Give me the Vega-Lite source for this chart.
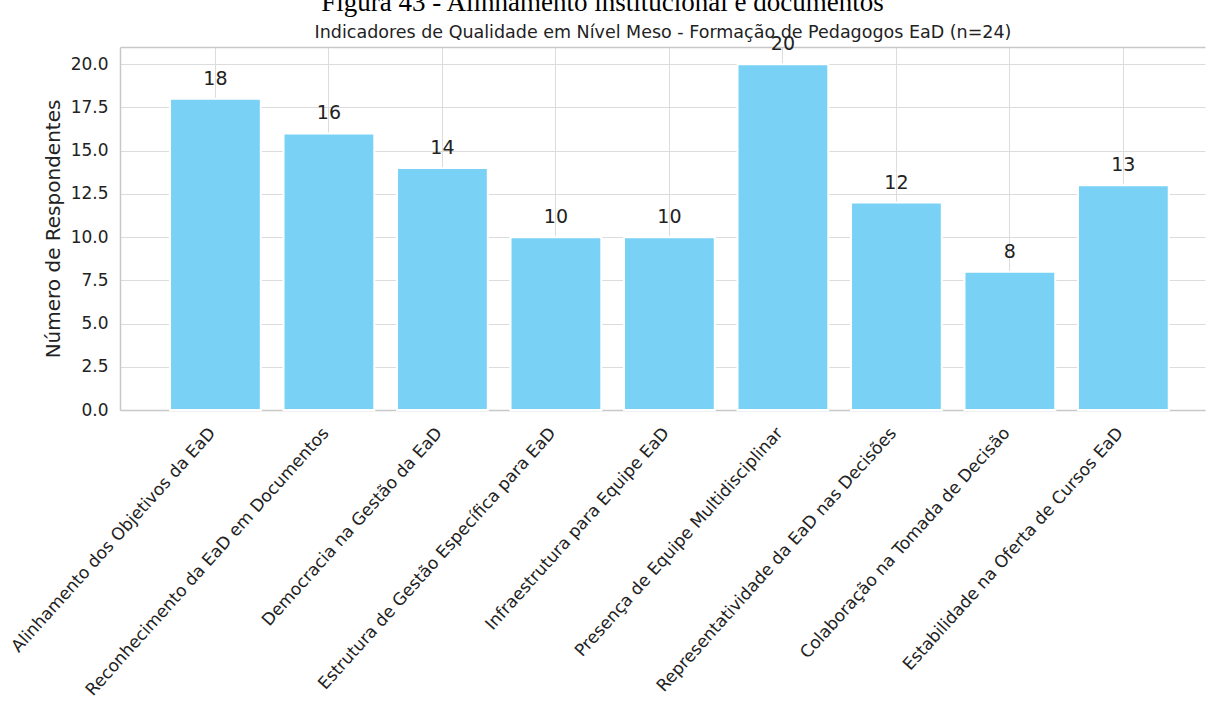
{
  "$schema": "https://vega.github.io/schema/vega-lite/v6.json",
  "autosize": {"type": "none"},
  "width": 1085,
  "height": 363,
  "padding": {"left": 120, "top": 47, "right": 2, "bottom": 307},
  "background": "white",
  "title": {
    "text": "Figura 43 - Alinhamento institucional e documentos",
    "font": "Liberation Serif",
    "fontSize": 27,
    "fontWeight": "normal",
    "color": "#000000",
    "anchor": "middle",
    "frame": "group",
    "dx": -60,
    "offset": 6
  },
  "data": {
    "values": [
      {"indicador": "Alinhamento dos Objetivos da EaD", "n": 18},
      {"indicador": "Reconhecimento da EaD em Documentos", "n": 16},
      {"indicador": "Democracia na Gestão da EaD", "n": 14},
      {"indicador": "Estrutura de Gestão Específica para EaD", "n": 10},
      {"indicador": "Infraestrutura para Equipe EaD", "n": 10},
      {"indicador": "Presença de Equipe Multidisciplinar", "n": 20},
      {"indicador": "Representatividade da EaD nas Decisões", "n": 12},
      {"indicador": "Colaboração na Tomada de Decisão", "n": 8},
      {"indicador": "Estabilidade na Oferta de Cursos EaD", "n": 13}
    ]
  },
  "encoding": {
    "x": {
      "field": "indicador",
      "type": "nominal",
      "sort": null,
      "scale": {"paddingInner": 0.2, "paddingOuter": 0.38, "align": 0.58}
    },
    "y": {
      "field": "n",
      "type": "quantitative",
      "scale": {"domain": [0, 21], "nice": false},
      "axis": {
        "title": "Número de Respondentes",
        "values": [0, 2.5, 5, 7.5, 10, 12.5, 15, 17.5, 20],
        "format": ".1f",
        "ticks": false,
        "labelPadding": 12,
        "labelFont": "DejaVu Sans",
        "labelFontSize": 17,
        "labelColor": "#222222",
        "titleFont": "DejaVu Sans",
        "titleFontSize": 20,
        "titleFontWeight": "normal",
        "titleColor": "#222222",
        "titlePadding": 7,
        "grid": true,
        "gridColor": "#dcdcdc",
        "gridWidth": 1,
        "domainColor": "#c8c8c8",
        "domainWidth": 1.5
      }
    }
  },
  "layer": [
    {
      "mark": {"type": "bar", "color": "#79d2f6", "stroke": "#ffffff", "strokeWidth": 2},
      "encoding": {
        "x": {
          "field": "indicador",
          "type": "nominal",
          "sort": null,
          "axis": {
            "orient": "bottom",
            "title": null,
            "labelAngle": -48,
            "labelAlign": "right",
            "labelBaseline": "middle",
            "labelPadding": 20,
            "labelOffset": -3,
            "labelLimit": 600,
            "labelFont": "DejaVu Sans",
            "labelFontSize": 17,
            "labelColor": "#222222",
            "ticks": false,
            "grid": true,
            "gridColor": "#dcdcdc",
            "gridWidth": 1,
            "domainColor": "#c8c8c8",
            "domainWidth": 1.5
          }
        }
      }
    },
    {
      "mark": {"type": "text", "baseline": "alphabetic", "dy": -14, "font": "DejaVu Sans", "fontSize": 19, "color": "#222222"},
      "encoding": {
        "x": {
          "field": "indicador",
          "type": "nominal",
          "sort": null,
          "axis": {
            "orient": "top",
            "title": "Indicadores de Qualidade em Nível Meso - Formação de Pedagogos EaD (n=24)",
            "titleFont": "DejaVu Sans",
            "titleFontSize": 17.5,
            "titleFontWeight": "normal",
            "titleColor": "#222222",
            "titlePadding": 6,
            "labels": false,
            "ticks": false,
            "grid": false,
            "domainColor": "#c8c8c8",
            "domainWidth": 1.5
          }
        },
        "text": {"field": "n", "type": "quantitative"}
      }
    }
  ],
  "resolve": {"axis": {"x": "independent"}},
  "config": {"view": {"stroke": null}}
}
